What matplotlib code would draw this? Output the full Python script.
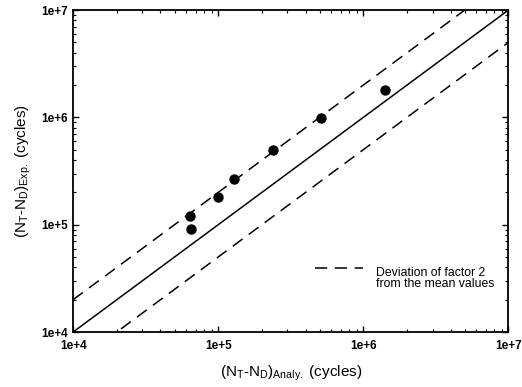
import matplotlib
matplotlib.use("Agg")
import matplotlib.pyplot as plt
import numpy as np
from matplotlib.ticker import LogLocator

plt.rcParams['font.family'] = ['Liberation Sans', 'DejaVu Sans']
plt.rcParams['mathtext.fontset'] = 'custom'
plt.rcParams['mathtext.rm'] = 'Liberation Sans'
plt.rcParams['mathtext.it'] = 'Liberation Sans:italic'

# Data
n_analy = [6.4e4, 6.5e4, 1.0e5, 1.29e5, 2.4e5, 5.1e5, 1.41e6]
n_exp = [1.2e5, 9.2e4, 1.82e5, 2.67e5, 4.92e5, 9.8e5, 1.8e6]
axis_range = [1e4, 1e7]
factor = 2
tick_values = [1e4, 1e5, 1e6, 1e7]
tick_labels = ['1e+4', '1e+5', '1e+6', '1e+7']
legend_label = 'Deviation of factor 2\nfrom the mean values'

fig = plt.figure(figsize=(5.22, 3.87), dpi=100)
ax = fig.add_axes([0.140, 0.142, 0.834, 0.832])
ax.set_xscale('log')
ax.set_yscale('log')

xr = np.array(axis_range)
dash = (0, (8, 5))
ax.plot(xr, xr, color='black', lw=1.1)
ax.plot(xr, xr * factor, color='black', lw=1.1, ls=dash, label=legend_label)
ax.plot(xr, xr / factor, color='black', lw=1.1, ls=dash)
ax.scatter(n_analy, n_exp, s=42, color='black', zorder=3)

ax.set_xlim(axis_range)
ax.set_ylim(axis_range)
ax.set_xticks(tick_values)
ax.set_xticklabels(tick_labels, fontweight='bold')
ax.set_yticks(tick_values)
ax.set_yticklabels(tick_labels, fontweight='bold')
ax.xaxis.set_minor_locator(LogLocator(base=10, subs=np.arange(2, 10)))
ax.yaxis.set_minor_locator(LogLocator(base=10, subs=np.arange(2, 10)))
ax.tick_params(which='both', direction='in', top=True, right=True, labelsize=8.5)
ax.tick_params(which='major', length=4, width=1)
ax.tick_params(which='minor', length=2, width=0.8)
ax.tick_params(axis='x', pad=6)
for s in ax.spines.values():
    s.set_linewidth(1.3)

ax.set_xlabel(r'(N$_\mathrm{T}$-N$_\mathrm{D}$)$_\mathrm{Analy.}$ (cycles)', fontsize=11, labelpad=8)
ax.set_ylabel(r'(N$_\mathrm{T}$-N$_\mathrm{D}$)$_\mathrm{Exp.}$ (cycles)', fontsize=11, labelpad=6)

leg = ax.legend(loc='lower right', bbox_to_anchor=(0.993, 0.095), frameon=False, fontsize=8.8,
                handlelength=3.9, handletextpad=1.1)
for t in leg.get_texts():
    t.set_linespacing(0.95)
for ln in leg.get_lines():
    yd = np.asarray(ln.get_ydata(), dtype=float)
    ln.set_ydata(yd + 7.5)

fig.savefig('out.png', dpi=100)
